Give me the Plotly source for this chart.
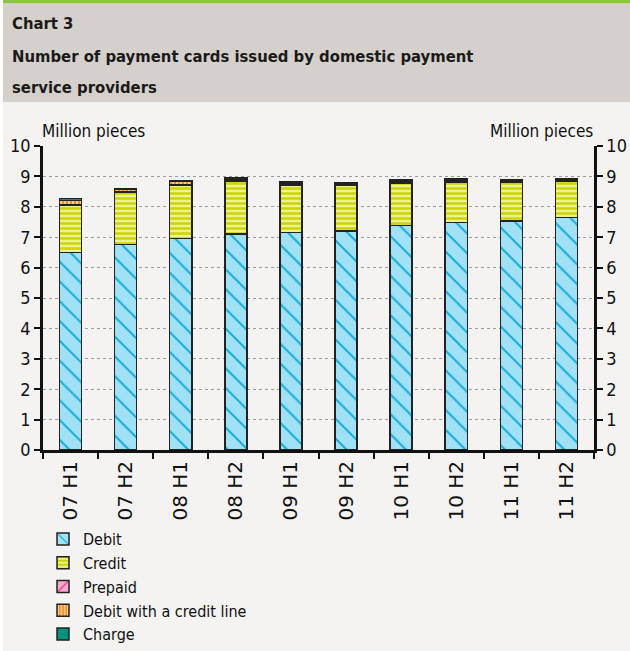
import plotly.graph_objects as go

categories = ["07 H1", "07 H2", "08 H1", "08 H2", "09 H1", "09 H2", "10 H1", "10 H2", "11 H1", "11 H2"]
debit = [6.49, 6.76, 6.96, 7.11, 7.16, 7.21, 7.39, 7.49, 7.53, 7.65]
credit = [1.55, 1.71, 1.75, 1.73, 1.55, 1.49, 1.38, 1.33, 1.27, 1.18]
prepaid = [0.02, 0.01, 0.01, 0.02, 0.03, 0.03, 0.04, 0.04, 0.03, 0.03]
debit_credit_line = [0.15, 0.10, 0.11, 0.06, 0.04, 0.04, 0.04, 0.03, 0.03, 0.02]
charge = [0.06, 0.03, 0.04, 0.04, 0.03, 0.03, 0.04, 0.04, 0.03, 0.03]
y_ticks = list(range(0, 11))

W, H = 630, 651
L, R, T, B = 43, 36, 146, 201
PW, PH = W - L - R, H - T - B

def px_x(px):
    return (px - L) / PW

def px_y(py):
    return (H - B - py) / PH

FONT = "DejaVu Sans Condensed, DejaVu Sans, sans-serif"
LINE = dict(color="#222222", width=1.5)

fig = go.Figure()
series = [
    ("Debit", debit, "#a0e1f5", "#17acdc", "\\", 14, 0.14),
    ("Credit", credit, "#eef28e", "#ccd400", "-", 5, 0.5),
    ("Prepaid", prepaid, "#f8aacd", "#e6338b", "/", 12, 0.15),
    ("Debit with a credit line", debit_credit_line, "#f7901e", "#ffe6c4", "|", 4, 0.35),
]
for name, vals, bg, fg, shape, size, sol in series:
    fig.add_trace(go.Bar(
        x=categories, y=vals, name=name, width=0.4,
        marker=dict(color=bg, line=LINE,
                    pattern=dict(shape=shape, bgcolor=bg, fgcolor=fg, size=size,
                                 solidity=sol, fillmode="replace")),
    ))
fig.add_trace(go.Bar(x=categories, y=charge, name="Charge", width=0.4,
                     marker=dict(color="#00937b", line=LINE)))
# invisible companion for right axis
fig.add_trace(go.Scatter(x=categories, y=debit, yaxis="y2", mode="none",
                         showlegend=False, hoverinfo="skip", opacity=0))

axis_common = dict(range=[0, 10], tickvals=y_ticks, ticks="outside", ticklen=6,
                   tickwidth=2, tickcolor="#111", showline=True, linecolor="#111",
                   linewidth=2.5, tickfont=dict(family=FONT, size=18, color="#111"),
                   zeroline=False, fixedrange=True)

fig.update_layout(
    width=W, height=H,
    margin=dict(l=L, r=R, t=T, b=B, autoexpand=False),
    paper_bgcolor="#f4f3f1", plot_bgcolor="#f4f3f1",
    barmode="stack", bargap=0.6,
    font=dict(family=FONT, size=16, color="#111"),
    xaxis=dict(type="category", ticks="outside", tickson="boundaries", ticklen=6,
               tickwidth=2, tickcolor="#111", showline=True, linecolor="#111",
               linewidth=3, tickangle=-90,
               tickfont=dict(family="DejaVu Sans, sans-serif", size=20, color="#111"),
               showgrid=False, fixedrange=True),
    yaxis=dict(**axis_common, showgrid=True, gridcolor="#9c9c9c", griddash="dot",
               gridwidth=1),
    yaxis2=dict(**axis_common, overlaying="y", side="right", showgrid=False),
    legend=dict(xref="container", yref="container", x=43 / W, y=1 - 522 / H,
                xanchor="left", yanchor="top", orientation="v", traceorder="normal",
                bgcolor="rgba(0,0,0,0)", font=dict(family=FONT, size=16, color="#111"),
                itemwidth=30, tracegroupgap=0),
    showlegend=True,
)

shapes = [
    dict(type="rect", xref="paper", yref="paper", x0=px_x(0), x1=px_x(W),
         y0=px_y(102), y1=px_y(0), fillcolor="#d5d0cb", line=dict(width=0), layer="below"),
    dict(type="rect", xref="paper", yref="paper", x0=px_x(0), x1=px_x(W),
         y0=px_y(3), y1=px_y(0), fillcolor="#8cc63f", line=dict(width=0), layer="below"),
    dict(type="rect", xref="paper", yref="paper", x0=px_x(0), x1=px_x(3),
         y0=px_y(H), y1=px_y(0), fillcolor="#ffffff", line=dict(width=0), layer="below"),
]
fig.update_layout(shapes=shapes)

ann = [
    dict(text="<b>Chart 3</b>", x=px_x(10), y=px_y(23), size=16.5),
    dict(text="<b>Number of payment cards issued by domestic payment</b>", x=px_x(10), y=px_y(57), size=16.5),
    dict(text="<b>service providers</b>", x=px_x(10), y=px_y(87), size=16.5),
]
annotations = []
for a in ann:
    annotations.append(dict(text=a["text"], x=a["x"], y=a["y"], xref="paper", yref="paper",
                            xanchor="left", yanchor="middle", showarrow=False,
                            font=dict(family=FONT, size=a["size"], color="#1a1a1a")))
annotations.append(dict(text="Million pieces", x=px_x(40), y=px_y(131), xref="paper", yref="paper",
                        xanchor="left", yanchor="middle", showarrow=False,
                        font=dict(family=FONT, size=17, color="#111")))
annotations.append(dict(text="Million pieces", x=px_x(595), y=px_y(131), xref="paper", yref="paper",
                        xanchor="right", yanchor="middle", showarrow=False,
                        font=dict(family=FONT, size=17, color="#111")))
fig.update_layout(annotations=annotations)

fig.write_html("out.html", config={"displayModeBar": False},
               post_script="document.body.style.margin='0';document.body.style.overflow='hidden';")
